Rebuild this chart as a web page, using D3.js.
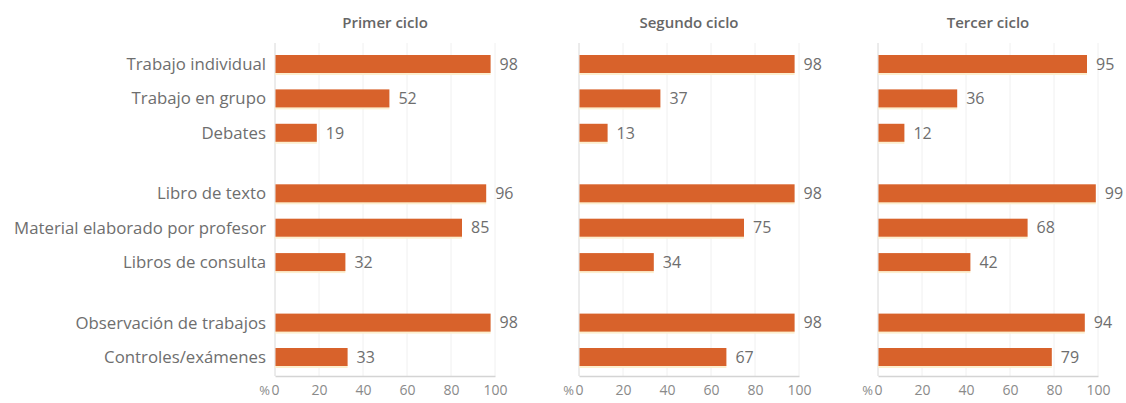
<!DOCTYPE html>
<html><head><meta charset="utf-8">
<script src="https://cdn.jsdelivr.net/npm/d3@7"></script>
<style>
body{margin:0;background:#fff;}
text{font-family:"Open Sans","Noto Sans",sans-serif;}
</style></head>
<body><svg id="c" width="1126" height="403"></svg>
<script>
const categories = ["Trabajo individual","Trabajo en grupo","Debates","Libro de texto","Material elaborado por profesor","Libros de consulta","Observación de trabajos","Controles/exámenes"];
const groups = [0,0,0,1,1,1,2,2];
const panels = ["Primer ciclo","Segundo ciclo","Tercer ciclo"];
const primer = [98,52,19,96,85,32,98,33];
const segundo = [98,37,13,98,75,34,98,67];
const tercer = [95,36,12,99,68,42,94,79];
const ticks = [0,20,40,60,80,100];

const series = [primer, segundo, tercer];
const svg = d3.select("#c");
const panelX = [275, 579, 878];
const W = 220;
const slot = (i) => i + groups[i]*0.76;
const y = d3.scaleLinear().domain([0, slot(7)]).range([64, 357]);
const barH = 18;
const orange = "#d8622b";
const textCol = "#6e6e6e";

categories.forEach((c,i)=>{
  svg.append("text").attr("x",266).attr("y",y(slot(i))).attr("dy","0.36em")
    .attr("text-anchor","end").attr("font-size",16.8).attr("fill",textCol).text(c);
});

panels.forEach((p,k)=>{
  const x = d3.scaleLinear().domain([0,100]).range([panelX[k], panelX[k]+W]);
  const g = svg.append("g");
  g.selectAll("line.grid").data(ticks).join("line")
    .attr("x1",d=>x(d)).attr("x2",d=>x(d)).attr("y1",43).attr("y2",376)
    .attr("stroke", d=> d===0 ? "#d8d8d8" : "#f0f0f0").attr("stroke-width",1);
  const ax = g.append("g").attr("transform","translate(0,376)")
    .call(d3.axisBottom(x).tickValues(ticks).tickSize(0).tickPadding(9));
  ax.select(".domain").attr("stroke","#d4d4d4").attr("stroke-width",1.5);
  ax.selectAll("text").attr("font-size",14).attr("fill","#8a8a8a")
    .attr("font-family","'Open Sans','Noto Sans',sans-serif");
  g.append("text").attr("x",x(0)-5).attr("y",395).attr("text-anchor","end")
    .attr("font-size",13).attr("fill","#8a8a8a").text("%");
  g.append("text").attr("x",x(50)).attr("y",28).attr("text-anchor","middle")
    .attr("font-size",15).attr("font-weight",600).attr("fill","#666").text(p);
  const vals = series[k];
  g.selectAll("rect.hl").data(vals).join("rect")
    .attr("x",x(0)).attr("y",(d,i)=>y(slot(i))+barH/2-1).attr("width",d=>x(d)-x(0)).attr("height",3)
    .attr("fill","#fcefcf");
  g.selectAll("rect.bar").data(vals).join("rect")
    .attr("x",x(0)+0.5).attr("y",(d,i)=>y(slot(i))-barH/2).attr("width",d=>x(d)-x(0)-0.5).attr("height",barH)
    .attr("fill",orange);
  g.selectAll("text.val").data(vals).join("text")
    .attr("x",d=>x(d)+9).attr("y",(d,i)=>y(slot(i))).attr("dy","0.36em")
    .attr("font-size",16).attr("fill",textCol).text(d=>d);
});
</script></body></html>
